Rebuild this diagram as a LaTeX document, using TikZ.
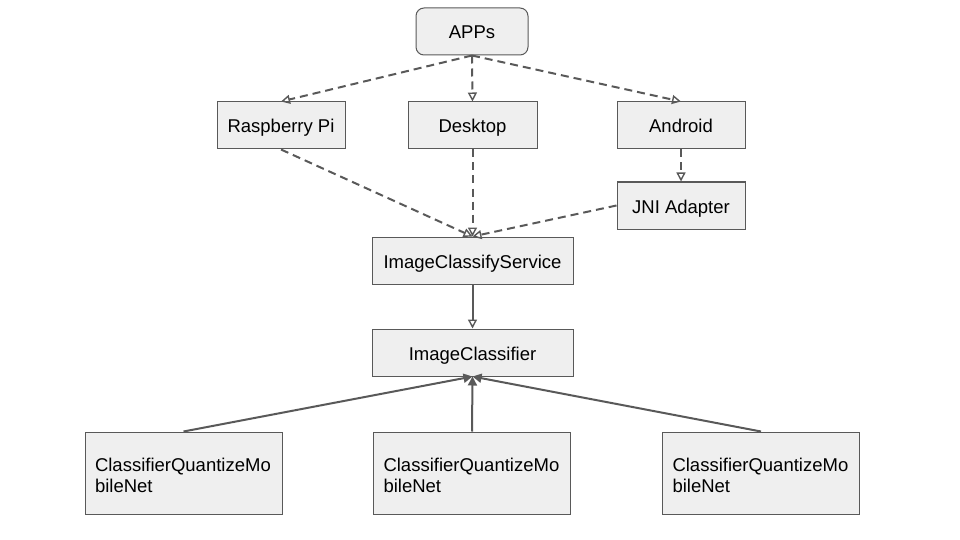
\documentclass[tikz,border=0pt]{standalone}
\usepackage{fontspec}
\setmainfont{Liberation Sans}
\usetikzlibrary{arrows.meta}
\definecolor{boxfill}{HTML}{EFEFEF}
\definecolor{edgegray}{HTML}{595959}
\begin{document}
\begin{tikzpicture}[x=1pt,y=-1pt,
  basebox/.style={draw=edgegray, fill=boxfill, line width=1pt, inner sep=0pt,
    font=\fontsize{18.5}{21}\selectfont},
  box/.style={basebox, minimum height=47pt, text height=18pt, text depth=3pt},
  wide/.style={basebox, minimum width=197pt, minimum height=82pt, text width=177pt,
    inner xsep=10pt, align=left},
  dashlink/.style={draw=edgegray, line width=2pt, dash pattern=on 8pt off 5pt,
    -{Triangle[open, length=9pt, width=9pt, line width=1.4pt]}},
  openlink/.style={draw=edgegray, line width=2pt,
    -{Triangle[open, length=9pt, width=9pt, line width=1.4pt]}},
  filllink/.style={draw=edgegray, line width=2pt,
    -{Triangle[length=9pt, width=9pt]}}]
\useasboundingbox (0,0) rectangle (960,540);
\node[box, rounded corners=8pt, minimum width=112pt] (apps) at (472,31.5) {APPs};
\node[box, minimum width=128pt] (rpi) at (281,125.5) {Raspberry Pi};
\node[box, minimum width=129pt] (desk) at (472.5,125.5) {Desktop};
\node[box, minimum width=128pt] (andr) at (681,125.5) {Android};
\node[box, minimum width=128pt] (jni) at (681,205.5) {JNI Adapter};
\node[box, minimum width=201pt] (ics) at (472.5,260.5) {ImageClassifyService};
\node[box, minimum width=201pt] (ic) at (472.5,352.5) {ImageClassifier};
\node[wide] (q1) at (183.5,473) {\rule{0pt}{18pt}ClassifierQuantizeMo\\bileNet};
\node[wide] (q2) at (472,473) {\rule{0pt}{18pt}ClassifierQuantizeMo\\bileNet};
\node[wide] (q3) at (761,473) {\rule{0pt}{18pt}ClassifierQuantizeMo\\bileNet};
\draw[dashlink] (apps.south) -- (rpi.north);
\draw[dashlink] (apps.south) -- (desk.north);
\draw[dashlink] (apps.south) -- (andr.north);
\draw[dashlink] (andr.south) -- (jni.north);
\draw[dashlink] (rpi.south) -- (ics.north);
\draw[dashlink] (desk.south) -- (ics.north);
\draw[dashlink] (jni.west) -- (ics.north);
\draw[openlink] (ics.south) -- (ic.north);
\draw[filllink] (q1.north) -- (ic.south);
\draw[filllink] (q2.north) -- (ic.south);
\draw[filllink] (q3.north) -- (ic.south);
\end{tikzpicture}
\end{document}
